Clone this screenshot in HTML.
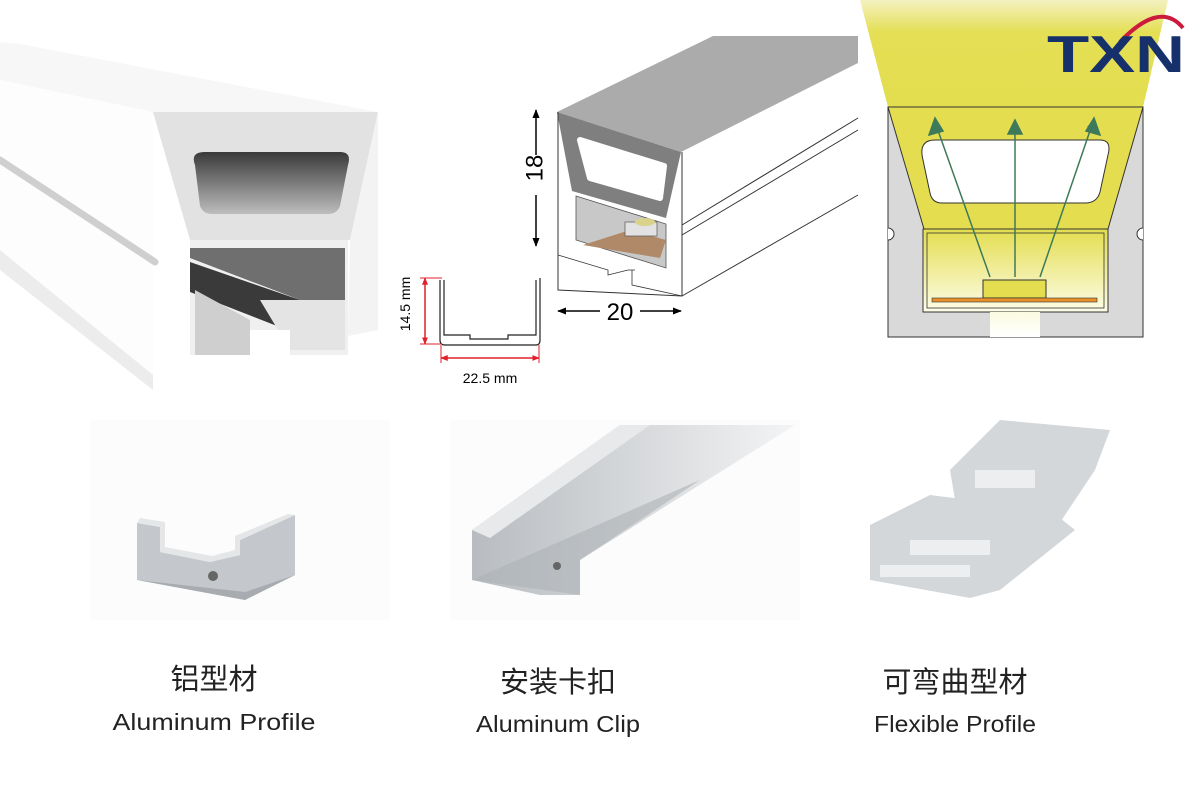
<!DOCTYPE html>
<html><head><meta charset="utf-8"><style>
html,body{margin:0;padding:0;background:#fff;width:1200px;height:800px;overflow:hidden}
</style></head><body>
<svg width="1200" height="800" viewBox="0 0 1200 800" style="position:absolute;left:0;top:0">
<defs>
<linearGradient id="hole" x1="0" y1="0" x2="0" y2="1"><stop offset="0" stop-color="#3a3a3a"/><stop offset="1" stop-color="#bdbdbd"/></linearGradient>
<linearGradient id="beam" x1="0" y1="0" x2="0" y2="1"><stop offset="0" stop-color="#f4f1c0"/><stop offset="0.3" stop-color="#e4df55"/><stop offset="1" stop-color="#e3dd4f"/></linearGradient>
<linearGradient id="inner" x1="0" y1="0" x2="0" y2="1"><stop offset="0" stop-color="#e3dd4f"/><stop offset="1" stop-color="#fdfde8"/></linearGradient>
<linearGradient id="slot" x1="0" y1="0" x2="0" y2="1"><stop offset="0" stop-color="#fbfbe0"/><stop offset="1" stop-color="#fff"/></linearGradient>
<linearGradient id="fade" x1="0" y1="0" x2="1" y2="0"><stop offset="0" stop-color="#b8bcc0"/><stop offset="1" stop-color="#f3f4f5"/></linearGradient>
<marker id="ga" viewBox="0 0 10 10" refX="8" refY="5" markerWidth="8" markerHeight="8" markerUnits="userSpaceOnUse" orient="auto"><path d="M0,0L10,5L0,10z" fill="#3d7a5a"/></marker>
<marker id="ba" viewBox="0 0 10 10" refX="9" refY="5" markerWidth="6" markerHeight="6" orient="auto"><path d="M0,1L10,5L0,9z" fill="#000"/></marker>
<marker id="ra" viewBox="0 0 10 10" refX="9" refY="5" markerWidth="5" markerHeight="5" orient="auto"><path d="M0,1L10,5L0,9z" fill="#e0202a"/></marker>
</defs>

<!-- LEFT white profile -->
<polygon points="0,42 20,44 378,112 153,112 0,80" fill="#f7f7f7"/>
<polygon points="0,80 153,112 153,375 0,250" fill="#fdfdfd"/>
<path d="M0,160 L155,262" stroke="#cfcfcf" stroke-width="7" stroke-linecap="round"/>
<polygon points="0,250 153,375 153,390 0,270" fill="#ececec"/>
<polygon points="153,112 378,112 350,240 190,240" fill="#e2e2e2"/>
<polygon points="378,112 350,240 348,336 378,330" fill="#f3f3f3"/>
<path d="M195,165 Q190,152 205,152 L340,152 Q352,152 348,165 L340,206 Q337,214 328,214 L212,214 Q203,214 200,206 Z" fill="url(#hole)"/>
<rect x="190" y="240" width="158" height="115" fill="#f0f0f0"/>
<polygon points="190,248 345,248 345,300 300,300 190,258" fill="#6f6f6f"/>
<polygon points="190,262 300,300 300,335 190,292" fill="#3a3a3a"/>
<polygon points="195,290 250,320 250,355 195,355" fill="#cfcfcf"/>
<polygon points="260,300 345,300 345,350 290,350" fill="#e4e4e4"/>
<rect x="250" y="330" width="40" height="45" fill="#fff"/>

<!-- MIDDLE technical drawing -->
<polygon points="557,112 713,36 858,36 858,63 681,152" fill="#ababab"/>
<polygon points="557,112 681,152 666,218 572,191" fill="#7f7f7f"/>
<polygon points="580,140 664,166 660,198 590,178" fill="#fff" stroke="#fff" stroke-width="6" stroke-linejoin="round"/>
<path d="M558,112 L558,290 L682,296 L682,152 M682,296 L858,195 M682,235 L858,130 M682,225 L858,118" fill="none" stroke="#333" stroke-width="1"/>
<polygon points="576,196 666,224 666,268 576,240" fill="#c8c8c8" stroke="#555" stroke-width="0.8"/>
<polygon points="583,245 630,230 666,240 660,258" fill="#b08a68"/>
<rect x="625" y="222" width="32" height="14" fill="#e2e2e2" stroke="#555" stroke-width="0.7"/>
<ellipse cx="645" cy="222" rx="10" ry="4" fill="#d9d28a"/>
<path d="M558,255 L608,270 L608,275 L628,270 L635,270 M632,270 L632,285 L682,296" fill="none" stroke="#333" stroke-width="0.8"/>
<line x1="536" y1="178" x2="536" y2="110" stroke="#000" stroke-width="1.5" marker-end="url(#ba)"/>
<line x1="536" y1="178" x2="536" y2="246" stroke="#000" stroke-width="1.5" marker-end="url(#ba)"/>
<rect x="527" y="155" width="18" height="40" fill="#fff"/>
<text x="545" y="177" font-family="Liberation Sans,sans-serif" font-size="24" transform="rotate(-90 536 177)" text-anchor="middle" dominant-baseline="middle">18</text>
<line x1="620" y1="311" x2="558" y2="311" stroke="#000" stroke-width="1.5" marker-end="url(#ba)"/>
<line x1="620" y1="311" x2="681" y2="311" stroke="#000" stroke-width="1.5" marker-end="url(#ba)"/>
<rect x="600" y="298" width="40" height="26" fill="#fff"/>
<text x="620" y="320" font-family="Liberation Sans,sans-serif" font-size="24" text-anchor="middle">20</text>
<path d="M440,280 L440,340 Q440,345 445,345 L536,345 Q540,345 540,340 L540,278 M444,280 L444,298 L444,335 L470,335 L470,339 L508,339 L508,335 L536,335 L536,280" fill="none" stroke="#222" stroke-width="1.2"/>
<line x1="425" y1="312" x2="425" y2="278" stroke="#e0202a" stroke-width="1.5" marker-end="url(#ra)"/>
<line x1="425" y1="312" x2="425" y2="344" stroke="#e0202a" stroke-width="1.5" marker-end="url(#ra)"/>
<line x1="420" y1="278" x2="442" y2="278" stroke="#e0202a"/><line x1="420" y1="344" x2="442" y2="344" stroke="#e0202a"/>
<line x1="490" y1="358" x2="441" y2="358" stroke="#e0202a" stroke-width="1.5" marker-end="url(#ra)"/>
<line x1="490" y1="358" x2="539" y2="358" stroke="#e0202a" stroke-width="1.5" marker-end="url(#ra)"/>
<line x1="441" y1="345" x2="441" y2="363" stroke="#e0202a"/><line x1="539" y1="345" x2="539" y2="363" stroke="#e0202a"/>
<text x="410" y="304" font-family="Liberation Sans,sans-serif" font-size="14" transform="rotate(-90 410 304)" text-anchor="middle">14.5 mm</text>
<text x="490" y="383" font-family="Liberation Sans,sans-serif" font-size="14" text-anchor="middle">22.5 mm</text>

<!-- RIGHT beam diagram -->
<polygon points="860,0 1168,0 1143,107 888,107" fill="url(#beam)"/>
<rect x="888" y="107" width="255" height="230" fill="#d9d9d9" stroke="#333"/>
<polygon points="888,107 1143,107 1108,229 924,229" fill="#e3dd4f" stroke="#333"/>
<path d="M923,160 Q918,140 935,140 L1100,140 Q1112,140 1108,155 L1100,192 Q1097,203 1085,203 L942,203 Q932,203 930,193 Z" fill="#fff" stroke="#333"/>
<rect x="923" y="229" width="185" height="83" fill="url(#inner)" stroke="#333"/>
<rect x="927" y="233" width="177" height="75" fill="none" stroke="#333" stroke-width="0.8"/>
<rect x="990" y="312" width="50" height="25" fill="url(#slot)"/>
<path d="M888,228 A6,6 0 0 1 888,240 M1143,228 A6,6 0 0 0 1143,240" fill="#fff" stroke="#333"/>
<rect x="983" y="280" width="63" height="18" fill="#e3dd4f" stroke="#333"/>
<rect x="932" y="298" width="165" height="4" fill="#e8912a" stroke="#333" stroke-width="0.6"/>
<g stroke="#3d7a5a" stroke-width="1.5" fill="none">
<line x1="990" y1="277" x2="935" y2="122" marker-end="url(#ga)"/>
<line x1="1015" y1="277" x2="1015" y2="123" marker-end="url(#ga)"/>
<line x1="1040" y1="277" x2="1093" y2="122" marker-end="url(#ga)"/>
</g>
<g stroke="#3d7a5a" stroke-width="1.5" fill="#3d7a5a">
<polygon points="935,118 929,135 943,131"/>
<polygon points="1015,120 1008,134 1022,134"/>
<polygon points="1094,118 1086,131 1100,135"/>
</g>
<path d="M1120,42 Q1160,0 1183,28" fill="none" stroke="#cc1a3c" stroke-width="4"/>
<text x="1047" y="72" font-family="Liberation Sans,sans-serif" font-weight="bold" font-size="52" fill="#15306a" textLength="138" lengthAdjust="spacingAndGlyphs">TXN</text>

<!-- BOTTOM products -->
<rect x="90" y="420" width="300" height="200" fill="#fcfcfc"/>
<polygon points="137,523 137,580 245,600 295,575 295,515 240,540 240,555 210,562 160,552 160,527" fill="#c4c8cc"/>
<polygon points="137,523 160,527 160,552 210,562 240,555 240,540 295,515 288,514 235,536 235,550 212,556 165,547 165,522 140,518" fill="#e4e6e8"/>
<polygon points="137,580 245,600 295,575 245,592" fill="#a8acb0"/>
<circle cx="213" cy="576" r="5" fill="#666"/>
<rect x="450" y="420" width="350" height="200" fill="#fcfcfc"/>
<polygon points="472,530 620,425 795,425 580,560 580,595 540,595 472,580" fill="url(#fade)"/>
<polygon points="472,530 620,425 650,425 490,538" fill="#e7e9eb"/>
<polygon points="472,580 580,595 580,560 700,480" fill="#aeb2b6" opacity="0.6"/>
<circle cx="557" cy="566" r="4" fill="#666"/>
<g fill="#d4d7da">
<polygon points="950,470 1000,420 1110,430 1095,470 1075,500 1045,545 1010,520 955,500"/>
<polygon points="870,525 930,495 1050,510 1075,530 1000,590 970,598 870,580"/>
</g>
<g fill="#eceef0"><rect x="975" y="470" width="60" height="18"/><rect x="910" y="540" width="80" height="15"/><rect x="880" y="565" width="90" height="12"/></g>
<g font-family="Liberation Sans,Noto Sans CJK SC,sans-serif" fill="#222" text-anchor="middle">
<text x="214" y="689" font-size="29">铝型材</text>
<text x="214" y="730" font-size="23" textLength="203" lengthAdjust="spacingAndGlyphs">Aluminum Profile</text>
<text x="558" y="692" font-size="29">安装卡扣</text>
<text x="558" y="732" font-size="23" textLength="164" lengthAdjust="spacingAndGlyphs">Aluminum Clip</text>
<text x="955" y="692" font-size="29">可弯曲型材</text>
<text x="955" y="732" font-size="23" textLength="162" lengthAdjust="spacingAndGlyphs">Flexible Profile</text>
</g>
</svg>
</body></html>
